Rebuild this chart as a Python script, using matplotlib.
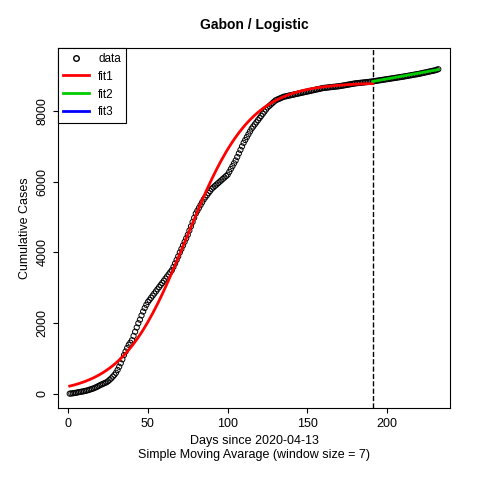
import numpy as np
import matplotlib
matplotlib.use("Agg")
import matplotlib.pyplot as plt

plt.rcParams["font.family"] = ["Liberation Sans", "DejaVu Sans"]

# ---------- data ----------
cases = [
    10, 15, 20, 28, 35, 45, 55, 62, 70, 80,
    90, 100, 115, 130, 145, 160, 180, 200, 225, 250,
    270, 290, 310, 330, 360, 400, 440, 490, 540, 600,
    680, 770, 870, 980, 1100, 1200, 1300, 1390, 1450, 1520,
    1640, 1760, 1880, 2000, 2100, 2220, 2330, 2430, 2520, 2600,
    2660, 2720, 2780, 2840, 2900, 2960, 3020, 3080, 3140, 3200,
    3260, 3320, 3380, 3440, 3500, 3590, 3690, 3790, 3890, 4000,
    4100, 4200, 4300, 4400, 4500, 4620, 4740, 4860, 4980, 5100,
    5180, 5260, 5340, 5420, 5500, 5560, 5620, 5680, 5740, 5800,
    5840, 5880, 5920, 5960, 6000, 6040, 6080, 6120, 6160, 6200,
    6280, 6360, 6440, 6520, 6600, 6700, 6800, 6900, 7000, 7100,
    7180, 7260, 7340, 7420, 7500, 7560, 7620, 7680, 7740, 7800,
    7860, 7920, 7980, 8040, 8100, 8140, 8180, 8220, 8260, 8300,
    8320, 8340, 8360, 8380, 8400, 8410, 8420, 8430, 8440, 8450,
    8460, 8470, 8480, 8490, 8500, 8510, 8520, 8530, 8540, 8550,
    8560, 8570, 8580, 8590, 8600, 8610, 8620, 8630, 8640, 8650,
    8655, 8660, 8665, 8670, 8675, 8680, 8685, 8690, 8695, 8700,
    8708, 8716, 8724, 8732, 8740, 8748, 8756, 8764, 8772, 8780,
    8785, 8790, 8795, 8800, 8805, 8810, 8815, 8820, 8825, 8830,
    8837, 8844, 8851, 8858, 8865, 8872, 8879, 8886, 8893, 8900,
    8907, 8914, 8921, 8928, 8935, 8942, 8949, 8956, 8963, 8970,
    8978, 8986, 8994, 9002, 9010, 9018, 9026, 9034, 9042, 9050,
    9060, 9070, 9080, 9090, 9100, 9110, 9120, 9130, 9140, 9150, 9165, 9180,
]
days = np.arange(1, len(cases) + 1)

# fit1: logistic parameters estimated from the red curve
K, R, T0 = 8800, 0.05, 74
CUTOFF = 191
# fit2: end points of the green segment
fit2_days = [191, 232]
fit2_vals = [8835, 9170]

fit1_days = np.arange(1, CUTOFF + 1)
fit1_vals = K / (1 + np.exp(-R * (fit1_days - T0)))

# ---------- plot ----------
fig = plt.figure(figsize=(4.8, 4.8), dpi=100)
ax = fig.add_axes([0.121, 0.15, 0.817, 0.75])

ax.scatter(days, cases, s=14, facecolors="none", edgecolors="black", linewidths=0.7, zorder=2)
ax.plot(fit1_days, fit1_vals, color="red", lw=2, zorder=3)
ax.plot(fit2_days, fit2_vals, color="#00cc00", lw=2, zorder=3)
ax.axvline(CUTOFF, color="black", ls="--", lw=1)

ax.set_xlim(-6.3, 239.5)
ax.set_ylim(-396, 9780)
ax.set_xticks([0, 50, 100, 150, 200])
ax.set_yticks([0, 2000, 4000, 6000, 8000])
ax.tick_params(direction="out", labelsize=9)
for lab in ax.get_yticklabels():
    lab.set_rotation(90)
    lab.set_va("center")

ax.set_title("Gabon / Logistic", fontsize=10, fontweight="bold", pad=14)
ax.set_xlabel("Days since 2020-04-13\nSimple Moving Avarage (window size = 7)", fontsize=9)
ax.set_ylabel("Cumulative Cases", fontsize=9)

h = [
    plt.Line2D([], [], marker="o", mfc="none", mec="black", ls="none", ms=4),
    plt.Line2D([], [], color="red", lw=2),
    plt.Line2D([], [], color="#00cc00", lw=2),
    plt.Line2D([], [], color="blue", lw=2),
]
leg = ax.legend(h, ["data", "fit1", "fit2", "fit3"], loc="upper left", fontsize=8.5,
                fancybox=False, framealpha=1, edgecolor="black", borderaxespad=0,
                handlelength=2.2)
leg.get_frame().set_linewidth(0.8)

plt.savefig("out.png", dpi=100)
